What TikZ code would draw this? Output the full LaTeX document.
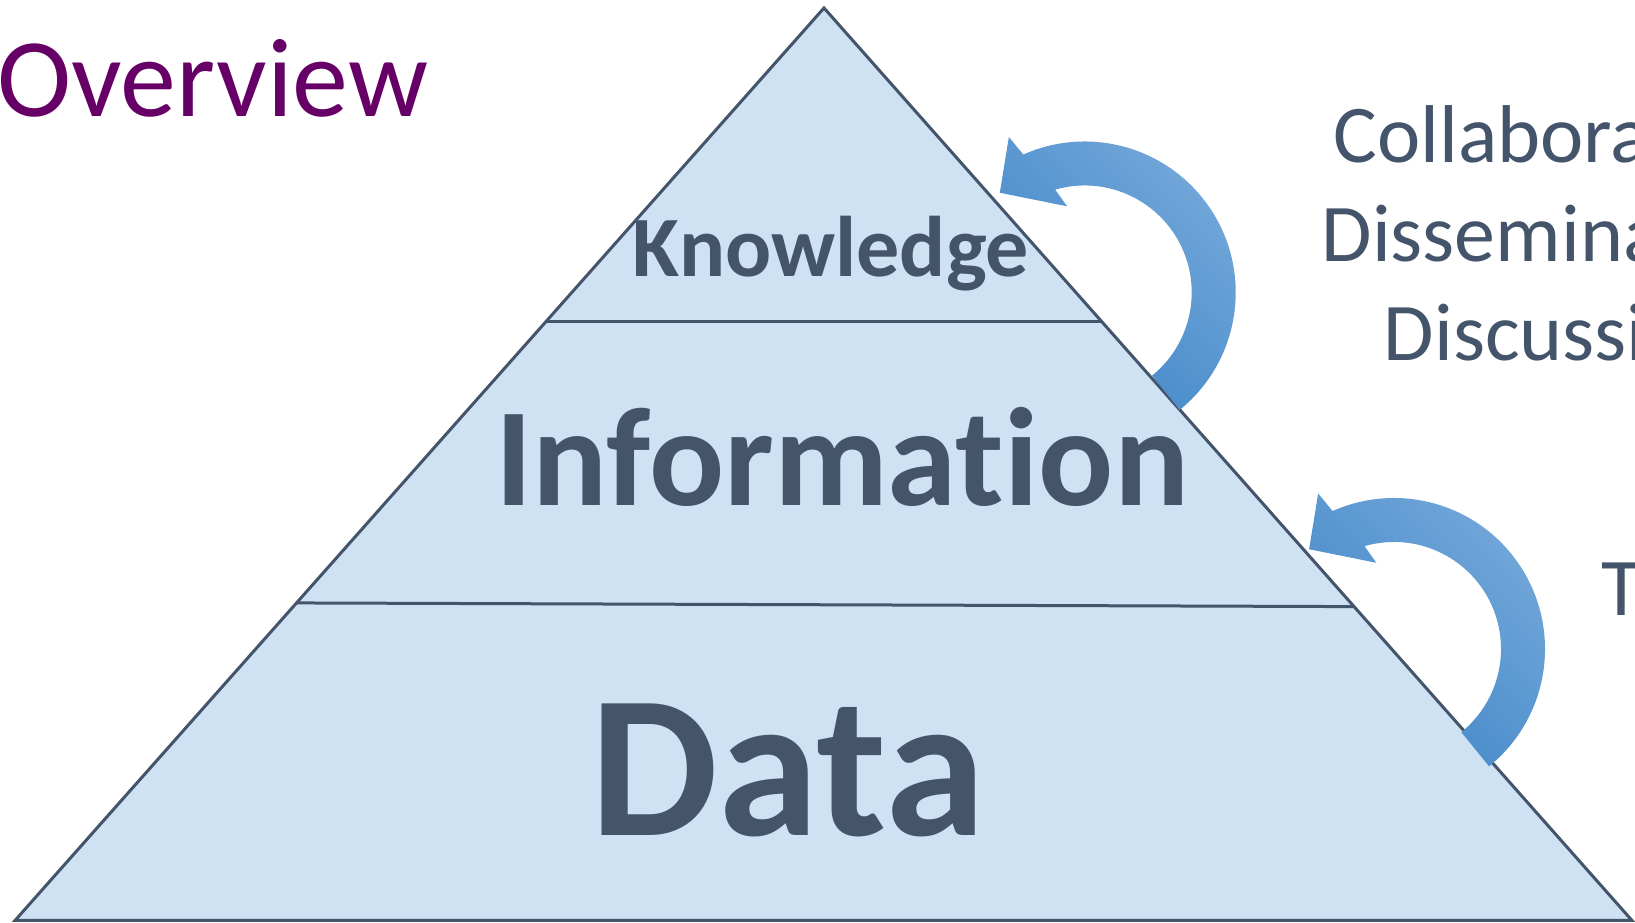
\documentclass[tikz,border=0pt]{standalone}
\usepackage{fontspec}
\setmainfont{Carlito}[Ligatures=NoCommon]
\usepackage{xcolor}
\usepackage{tikz}
\usetikzlibrary{calc}

\definecolor{layerfill}{HTML}{CFE2F3}
\definecolor{slate}{HTML}{44546A}
\definecolor{titlepurple}{HTML}{660066}
\definecolor{arrdark}{HTML}{3F86C8}
\definecolor{arrlight}{HTML}{76A9DA}

\begin{document}
\begin{tikzpicture}[
    x=1pt, y=1pt,
    edge/.style={draw=slate, line width=3pt},
    layer/.style={inner sep=0pt, anchor=base, text=slate},
    side/.style={inner sep=0pt, anchor=base, text=slate, font=\fontsize{82}{99}\selectfont},
    turnarrow/.style={top color=arrlight, bottom color=arrdark, shading angle=-45}
]
    \useasboundingbox (0,0) rectangle (1635,923);
    \clip (0,0) rectangle (1635,923);

    % Pyramid
    \coordinate (apex) at (824,915);
    \coordinate (bl) at (15,2.5);
    \coordinate (br) at (1632,2.5);
    \coordinate (kl) at ($(apex)!0.344!(bl)$);
    \coordinate (kr) at ($(apex)!0.344!(br)$);
    \coordinate (il) at ($(apex)!0.652!(bl)$);
    \coordinate (ir) at ($(apex)!0.656!(br)$);
    \fill[layerfill] (apex) -- (bl) -- (br) -- cycle;
    \draw[edge] (kl) -- (kr);
    \draw[edge] (il) -- (ir);
    \draw[edge] (apex) -- (bl) -- (br) -- cycle;

    % Layers
    \node[layer, font=\fontsize{86}{100}\selectfont\bfseries] (know) at (831,646) {Knowledge};
    \node[layer, font=\fontsize{140}{164}\selectfont\bfseries] (info) at (842,417) {Information};
    \node[layer, font=\fontsize{203}{236}\selectfont\bfseries] (data) at (788,87) {Data};

    % Title
    \node[anchor=base west, inner sep=0pt, text=titlepurple, font=\fontsize{112}{134}\selectfont] (overview) at (-3,806) {Overview};

    % Side labels
    \node[side] (collab) at (1558,760) {Collaboration};
    \node[side] (dissem) at (1558,661) {Dissemination};
    \node[side] (discuss) at (1558,562) {Discussion};
    \node[side, anchor=base west] (tnode) at (1601,307) {T};

    % Turn arrows
    \coordinate (arrA) at (1084.7,630.5);
    \coordinate (arrB) at (1394,274);
    \foreach \c in {arrA,arrB}
        \shade[turnarrow, shift={(\c)}] (-51:151) arc[start angle=-51, end angle=114, radius=151]
            -- (116:173) -- (130.4:131) -- (101.6:88) -- (106:107)
            arc[start angle=106, end angle=-51, radius=107] -- cycle;
\end{tikzpicture}
\end{document}
